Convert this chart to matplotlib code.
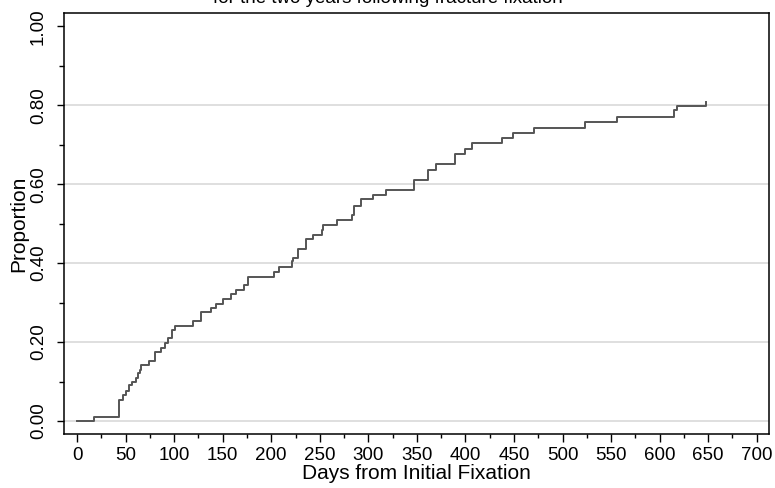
import matplotlib
matplotlib.use("Agg")
import matplotlib.pyplot as plt
import numpy as np

plt.rcParams['font.family'] = ['Liberation Sans', 'DejaVu Sans']

# Days from initial fixation at which the cumulative proportion steps up
days = [0, 17.8, 43.3, 47, 50, 53.6, 56.3, 60.8, 63.2, 64.9, 65.9, 74.5, 80.3,
        86.5, 90.6, 94, 97.5, 100.9, 119.8, 127.4, 138, 143.2, 150, 159, 164,
        172, 176.4, 202.5, 207.5, 221.4, 222.8, 228, 236, 243.4, 252, 253.7,
        267.4, 283.5, 285.6, 292.5, 305.2, 318.2, 347.1, 361.8, 369.4, 389.5,
        400, 406.4, 437.3, 448.6, 470.6, 523.2, 555.8, 615.2, 617.6, 647.8]
proportion = [0, 0.011, 0.053, 0.066, 0.076, 0.090, 0.100, 0.108, 0.121, 0.129,
              0.142, 0.152, 0.176, 0.186, 0.197, 0.210, 0.231, 0.242, 0.253,
              0.275, 0.286, 0.297, 0.308, 0.321, 0.332, 0.345, 0.366, 0.377,
              0.390, 0.406, 0.413, 0.437, 0.460, 0.471, 0.484, 0.497, 0.509,
              0.522, 0.545, 0.562, 0.573, 0.585, 0.611, 0.636, 0.651, 0.676,
              0.689, 0.704, 0.716, 0.731, 0.743, 0.758, 0.771, 0.788, 0.799,
              0.809]

x_ticks = list(range(0, 701, 50))
y_ticks = [0.0, 0.2, 0.4, 0.6, 0.8, 1.0]
grid_vals = [0.0, 0.2, 0.4, 0.6, 0.8]

title = "for the two years following fracture fixation"
xlabel = "Days from Initial Fixation"
ylabel = "Proportion"

W, H = 775, 488
fig = plt.figure(figsize=(W / 100, H / 100), dpi=100)
ax = fig.add_axes([64 / W, (H - 433.7) / H, (769 - 64) / W, (433.7 - 13) / H])

for g in grid_vals:
    ax.axhline(g, color='#dcdcdc', lw=1.3, zorder=1)

ax.plot(days, proportion, drawstyle='steps-post', color='#555555', lw=1.4, zorder=3)

ax.set_xlim(-13.4, 712.6)
ax.set_ylim(-0.0322, 1.034)

ax.set_xticks(x_ticks)
ax.set_xticks(np.arange(25, 701, 50), minor=True)
ax.set_yticks(y_ticks)
ax.set_yticks([0.1, 0.3, 0.5, 0.7, 0.9], minor=True)
ax.set_yticklabels([f"{v:.2f}" for v in y_ticks])
plt.setp(ax.get_yticklabels(), rotation=90, va='center')

ax.tick_params(axis='x', which='major', length=5.8, width=1, pad=3.5, labelsize=13.5)
ax.tick_params(axis='x', which='minor', length=3, width=1)
ax.tick_params(axis='y', which='major', length=5.2, width=1, pad=7, labelsize=13.5)
ax.tick_params(axis='y', which='minor', length=3.5, width=1)

for s in ax.spines.values():
    s.set_linewidth(1.1)
    s.set_color('black')

ax.set_xlabel(xlabel, fontsize=15, labelpad=0)
ax.set_ylabel(ylabel, fontsize=15, labelpad=1)

fig.text(0.5, 1 - 3 / H, title, ha='center', va='baseline', fontsize=13.5)

fig.savefig("out.png", dpi=100)
